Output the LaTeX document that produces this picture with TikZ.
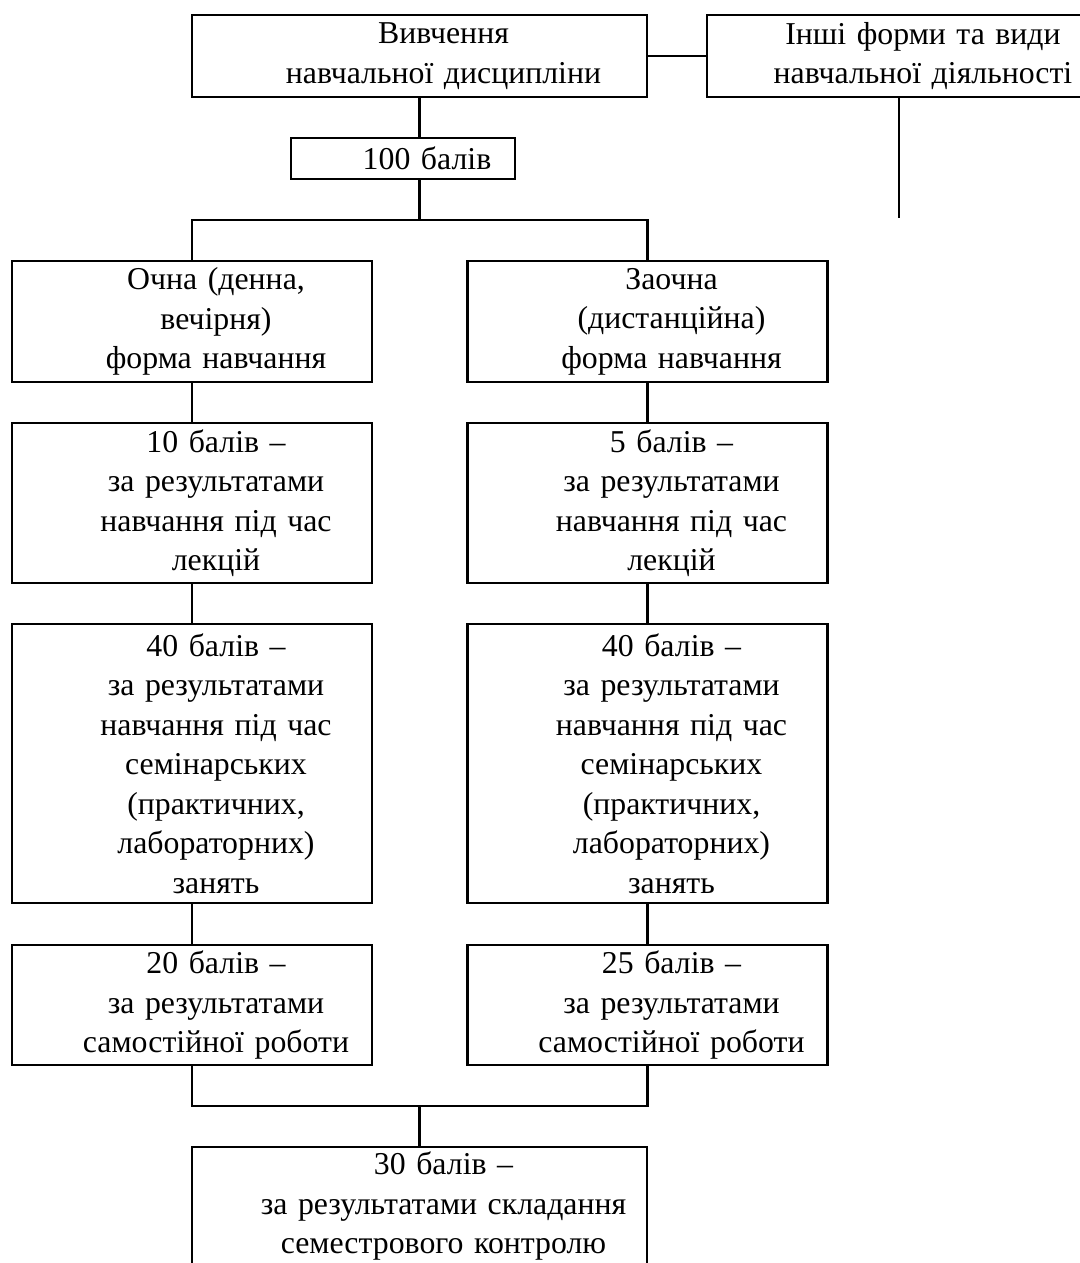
\documentclass[tikz,border=0pt]{standalone}
\usepackage{fontspec}
\setmainfont{Liberation Serif}

\begin{document}
\begin{tikzpicture}[x=1pt,y=-1pt,line width=2.5pt,
	box/.style={draw,inner xsep=0pt,inner ysep=0pt,align=center,
		font=\fontsize{31.8}{39.5}\selectfont,
		execute at begin node={\leftskip=48pt plus 1fil\rightskip=0pt plus 1fil\parfillskip=0pt}},
	col/.style={box,text width=360pt}]
	\useasboundingbox (0,0) rectangle (1079,1263);

	\node [box,text width=455pt,minimum height=82pt] (a) at (419.5,56) {Вивчення\\навчальної дисципліни};
	\node [box,text width=384pt,minimum height=82pt] (b) at (899,56) {Інші форми та види\\навчальної діяльності};
	\node [box,text width=224pt,minimum height=41pt] (s) at (403,158.5) {100 балів};

	\node [col,minimum height=121pt] (l1) at (192,321.5) {Очна (денна,\\вечірня)\\форма навчання};
	\node [col,minimum height=160pt] (l2) at (192,503) {10 балів –\\за результатами\\навчання під час\\лекцій};
	\node [col,minimum height=279pt] (l3) at (192,763.5) {40 балів –\\за результатами\\навчання під час\\семінарських\\(практичних,\\лабораторних)\\занять};
	\node [col,minimum height=120pt] (l4) at (192,1005) {20 балів –\\за результатами\\самостійної роботи};

	\node [col,minimum height=121pt] (r1) at (647.5,321.5) {Заочна\\(дистанційна)\\форма навчання};
	\node [col,minimum height=160pt] (r2) at (647.5,503) {5 балів –\\за результатами\\навчання під час\\лекцій};
	\node [col,minimum height=279pt] (r3) at (647.5,763.5) {40 балів –\\за результатами\\навчання під час\\семінарських\\(практичних,\\лабораторних)\\занять};
	\node [col,minimum height=120pt] (r4) at (647.5,1005) {25 балів –\\за результатами\\самостійної роботи};

	\node [box,text width=455pt,minimum height=118pt] (e) at (419.5,1206) {30 балів –\\за результатами складання\\семестрового контролю};

	\coordinate (j1) at (419.5,220);
	\coordinate (j2) at (419.5,1106);
	\coordinate (bend) at (899,218);

	\draw (a) -- (b);
	\draw (b.south) -- (bend);
	\draw (a.south) -- (a.south |- s.north);
	\draw (a.south |- s.south) -- (j1) -| (l1.north);
	\draw (j1) -| (r1.north);
	\foreach \i/\j in {1/2,2/3,3/4} {
		\draw (l\i) -- (l\j);
		\draw (r\i) -- (r\j);
	}
	\draw (l4.south) |- (j2);
	\draw (r4.south) |- (j2);
	\draw (j2) -- (e.north);
\end{tikzpicture}
\end{document}
